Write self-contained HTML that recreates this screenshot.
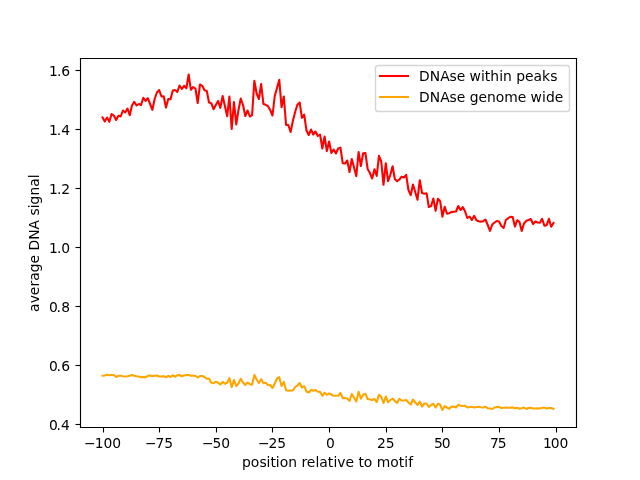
<!DOCTYPE html>
<html lang="en"><head><meta charset="utf-8"><title>average DNA signal vs position relative to motif</title>
<style>html,body{margin:0;padding:0;background:#fff;overflow:hidden}svg{display:block}text{font-family:"DejaVu Sans","Liberation Sans",sans-serif;font-size:13.889px;fill:#000;white-space:pre}.sp{stroke:#000;stroke-width:1.111;fill:none;stroke-linecap:square}.tk{stroke:#000;stroke-width:1.111;fill:none;stroke-linecap:butt}.ln{fill:none;stroke-width:2.083;stroke-linejoin:round;stroke-linecap:square}</style></head><body>
<svg width="640" height="480" viewBox="0 0 640 480">
<rect x="0" y="0" width="640" height="480" fill="#ffffff"/>
<g class="tk">
<line x1="103.5" y1="427.5" x2="103.5" y2="432.5"/>
<line x1="159.5" y1="427.5" x2="159.5" y2="432.5"/>
<line x1="216.5" y1="427.5" x2="216.5" y2="432.5"/>
<line x1="272.5" y1="427.5" x2="272.5" y2="432.5"/>
<line x1="329.5" y1="427.5" x2="329.5" y2="432.5"/>
<line x1="386.5" y1="427.5" x2="386.5" y2="432.5"/>
<line x1="442.5" y1="427.5" x2="442.5" y2="432.5"/>
<line x1="499.5" y1="427.5" x2="499.5" y2="432.5"/>
<line x1="556.5" y1="427.5" x2="556.5" y2="432.5"/>
<line x1="75.5" y1="424.5" x2="80.5" y2="424.5"/>
<line x1="75.5" y1="365.5" x2="80.5" y2="365.5"/>
<line x1="75.5" y1="306.5" x2="80.5" y2="306.5"/>
<line x1="75.5" y1="247.5" x2="80.5" y2="247.5"/>
<line x1="75.5" y1="188.5" x2="80.5" y2="188.5"/>
<line x1="75.5" y1="129.5" x2="80.5" y2="129.5"/>
<line x1="75.5" y1="70.5" x2="80.5" y2="70.5"/>
</g>
<g>
<text x="84.063 94.681 103.568 112.217" y="448.00">−100</text>
<text x="145.092 155.535 164.214" y="448.00">−75</text>
<text x="202.091 212.440 221.140" y="448.00">−50</text>
<text x="257.919 268.560 277.182" y="448.00">−25</text>
<text x="326.075" y="448.00">0</text>
<text x="376.996 385.832" y="448.00">25</text>
<text x="434.095 441.747" y="448.00">50</text>
<text x="489.976 497.634" y="448.00">75</text>
<text x="542.898 550.688 559.528" y="448.00">100</text>
</g><g>
<text x="48.885 56.449 61.051" y="430.00">0.4</text>
<text x="48.885 56.502 61.175" y="371.00">0.6</text>
<text x="48.885 56.502 61.170" y="312.00">0.8</text>
<text x="49.097 57.021 61.155" y="253.00">1.0</text>
<text x="48.949 56.878 61.272" y="194.00">1.2</text>
<text x="49.001 56.872 61.160" y="135.00">1.4</text>
<text x="48.899 56.913 61.182" y="76.00">1.6</text>
</g>
<text x="241.904 250.767 259.614 266.542 270.602 275.697 279.834 288.262 297.000 301.413 306.690 315.386 319.367 327.820 333.418 337.285 345.413 354.000 358.554 363.663 372.375 376.637 390.143 398.733 404.130 408.340" y="467.00">position relative to motif</text>
<text transform="translate(38.77,243.15) rotate(-90)" x="-68.773 -60.082 -52.211 -43.271 -37.648 -29.138 -20.434 -11.688 -7.365 3.379 13.589 23.312 27.630 34.885 38.676 47.714 56.430 64.916" y="0">average DNA signal</text>
<polyline class="ln" stroke="#ff0000" points="102.55,117.50 104.81,121.50 107.08,117.50 109.34,121.80 111.61,114.00 113.87,115.50 116.14,120.00 118.41,115.70 120.67,116.50 122.94,110.50 125.20,112.50 127.47,108.50 129.74,115.20 132.00,105.50 134.27,101.80 136.53,105.50 138.80,104.00 141.07,105.00 143.33,97.80 145.60,101.00 147.86,98.20 150.13,104.00 152.39,109.80 154.66,99.00 156.93,92.50 159.19,90.00 161.46,96.50 163.72,96.20 165.99,107.50 168.26,99.00 170.52,99.20 172.79,90.50 175.05,90.00 177.32,92.00 179.59,85.50 181.85,89.00 184.12,85.80 186.38,88.20 188.65,74.50 190.91,89.80 193.18,87.00 195.45,88.50 197.71,103.00 199.98,84.50 202.24,85.80 204.51,90.20 206.78,91.00 209.04,102.50 211.31,103.20 213.57,109.20 215.84,105.00 218.11,101.00 220.37,107.90 222.64,96.00 224.90,106.00 227.17,116.20 229.43,96.50 231.70,129.00 233.97,102.00 236.23,124.50 238.50,110.00 240.76,98.50 243.03,105.00 245.30,116.00 247.56,110.50 249.83,116.50 252.09,115.20 254.36,80.80 256.62,93.50 258.89,99.00 261.16,84.00 263.42,104.00 265.69,104.80 267.95,106.20 270.22,110.00 272.49,115.50 274.75,96.00 277.02,88.00 279.28,79.80 281.55,107.20 283.82,96.50 286.08,125.00 288.35,125.00 290.61,132.00 292.88,121.00 295.14,112.00 297.41,104.70 299.68,102.50 301.94,117.80 304.21,114.60 306.47,130.50 308.74,135.00 311.01,129.50 313.27,134.50 315.54,131.50 317.80,136.00 320.07,134.50 322.34,148.50 324.60,136.50 326.87,151.00 329.13,141.50 331.40,153.00 333.66,149.50 335.93,153.50 338.20,148.50 340.46,147.60 342.73,163.20 344.99,163.50 347.26,160.50 349.53,172.00 351.79,159.00 354.06,167.50 356.32,176.20 358.59,152.00 360.86,166.00 363.12,153.20 365.39,153.00 367.65,169.00 369.92,173.00 372.18,178.50 374.45,169.20 376.72,176.00 378.98,155.80 381.25,161.50 383.51,184.80 385.78,163.20 388.05,181.20 390.31,175.00 392.58,166.20 394.84,179.00 397.11,181.20 399.38,179.50 401.64,176.60 403.91,177.50 406.17,174.80 408.44,190.00 410.70,195.20 412.97,184.50 415.24,192.00 417.50,199.80 419.77,180.20 422.03,193.00 424.30,193.80 426.57,193.20 428.83,207.00 431.10,206.00 433.36,198.50 435.63,210.80 437.89,198.80 440.16,201.20 442.43,216.80 444.69,206.80 446.96,213.80 449.22,213.20 451.49,212.00 453.76,211.70 456.02,211.50 458.29,206.00 460.55,210.00 462.82,207.10 465.09,211.50 467.35,218.00 469.62,216.50 471.88,220.00 474.15,215.80 476.41,220.20 478.68,221.30 480.95,221.60 483.21,221.20 485.48,219.50 487.74,225.00 490.01,230.80 492.28,224.50 494.54,222.50 496.81,221.00 499.07,221.50 501.34,226.00 503.61,228.00 505.87,220.00 508.14,218.20 510.40,216.80 512.67,217.10 514.93,226.60 517.20,220.20 519.47,221.90 521.73,231.00 524.00,223.50 526.26,220.80 528.53,220.00 530.80,219.00 533.06,224.00 535.33,221.50 537.59,222.50 539.86,222.80 542.13,218.80 544.39,225.80 546.66,225.20 548.92,218.80 551.19,226.80 553.45,223.00"/>
<polyline class="ln" stroke="#ffa500" points="102.55,375.70 104.81,375.50 107.08,374.80 109.34,375.20 111.61,375.00 113.87,375.00 116.14,377.00 118.41,375.80 120.67,375.80 122.94,376.30 125.20,376.50 127.47,376.30 129.74,375.80 132.00,375.00 134.27,375.80 136.53,376.30 138.80,376.50 141.07,377.20 143.33,377.00 145.60,377.30 147.86,375.80 150.13,375.50 152.39,376.30 154.66,375.70 156.93,375.50 159.19,376.50 161.46,376.40 163.72,376.20 165.99,377.30 168.26,375.80 170.52,377.00 172.79,375.20 175.05,376.80 177.32,375.20 179.59,375.00 181.85,376.30 184.12,375.50 186.38,375.00 188.65,375.00 190.91,375.70 193.18,375.50 195.45,376.00 197.71,377.50 199.98,376.00 202.24,376.00 204.51,377.00 206.78,378.80 209.04,378.50 211.31,382.80 213.57,383.00 215.84,381.80 218.11,382.80 220.37,384.50 222.64,381.80 224.90,383.80 227.17,382.80 229.43,378.20 231.70,387.20 233.97,380.00 236.23,386.00 238.50,383.50 240.76,378.80 243.03,382.50 245.30,385.00 247.56,382.50 249.83,384.20 252.09,384.80 254.36,375.00 256.62,379.50 258.89,383.00 261.16,379.20 263.42,383.20 265.69,382.80 267.95,385.00 270.22,385.00 272.49,388.00 274.75,383.50 277.02,378.50 279.28,377.20 281.55,386.00 283.82,381.90 286.08,390.20 288.35,390.80 290.61,390.50 292.88,390.50 295.14,387.20 297.41,385.50 299.68,383.00 301.94,387.50 304.21,386.20 306.47,391.50 308.74,392.50 311.01,389.80 313.27,390.80 315.54,390.00 317.80,391.80 320.07,391.80 322.34,395.80 324.60,392.80 326.87,394.80 329.13,393.50 331.40,394.50 333.66,395.80 335.93,395.80 338.20,395.80 340.46,393.00 342.73,398.10 344.99,398.00 347.26,398.50 349.53,401.00 351.79,394.00 354.06,397.80 356.32,401.50 358.59,391.80 360.86,398.80 363.12,394.80 365.39,393.80 367.65,399.00 369.92,399.50 372.18,400.00 374.45,399.00 376.72,402.00 378.98,394.80 381.25,396.80 383.51,403.00 385.78,396.50 388.05,402.20 390.31,400.00 392.58,398.50 394.84,401.00 397.11,403.00 399.38,398.80 401.64,400.50 403.91,400.50 406.17,400.00 408.44,402.50 410.70,404.50 412.97,399.50 415.24,402.50 417.50,405.00 419.77,401.50 422.03,406.50 424.30,403.50 426.57,403.50 428.83,407.00 431.10,405.00 433.36,403.80 435.63,407.50 437.89,403.80 440.16,404.80 442.43,410.00 444.69,406.20 446.96,407.50 449.22,408.80 451.49,406.50 453.76,406.80 456.02,407.50 458.29,404.80 460.55,405.80 462.82,406.00 465.09,405.80 467.35,407.50 469.62,407.00 471.88,406.80 474.15,407.50 476.41,407.00 478.68,406.80 480.95,407.20 483.21,407.50 485.48,406.80 487.74,408.20 490.01,408.50 492.28,409.00 494.54,407.50 496.81,407.00 499.07,406.80 501.34,408.00 503.61,407.80 505.87,407.50 508.14,407.80 510.40,407.80 512.67,407.40 514.93,408.30 517.20,407.80 519.47,408.80 521.73,408.20 524.00,407.50 526.26,409.00 528.53,408.00 530.80,407.80 533.06,408.50 535.33,408.50 537.59,408.30 539.86,408.50 542.13,407.80 544.39,407.80 546.66,408.50 548.92,408.00 551.19,408.00 553.45,408.80"/>
<g class="sp"><line x1="80.5" y1="427.5" x2="80.5" y2="58.5"/><line x1="576.5" y1="427.5" x2="576.5" y2="58.5"/><line x1="80.5" y1="427.5" x2="576.5" y2="427.5"/><line x1="80.5" y1="58.5" x2="576.5" y2="58.5"/></g>
<path d="M378.28 111.50 L566.72 111.50 Q569.50 111.50 569.50 108.72 L569.50 68.28 Q569.50 65.50 566.72 65.50 L378.28 65.50 Q375.50 65.50 375.50 68.28 L375.50 108.72 Q375.50 111.50 378.28 111.50 Z" fill="#ffffff" fill-opacity="0.8" stroke="#cccccc" stroke-opacity="0.8" stroke-width="1.389" stroke-linejoin="miter"/>
<line class="ln" stroke="#ff0000" x1="380" y1="76" x2="408" y2="76"/>
<line class="ln" stroke="#ffa500" x1="380" y1="97" x2="408" y2="97"/>
<text x="419.115 429.775 440.264 449.523 456.835 465.250 469.575 481.004 484.820 490.310 499.270 503.012 511.750 516.373 525.084 533.603 541.978 550.237" y="81.00">DNAse within peaks</text>
<text x="419.115 429.775 440.264 449.523 456.835 465.250 469.712 478.488 487.086 495.834 504.341 517.711 526.250 530.575 542.054 545.913 554.711" y="102.00">DNAse genome wide</text>
</svg></body></html>
